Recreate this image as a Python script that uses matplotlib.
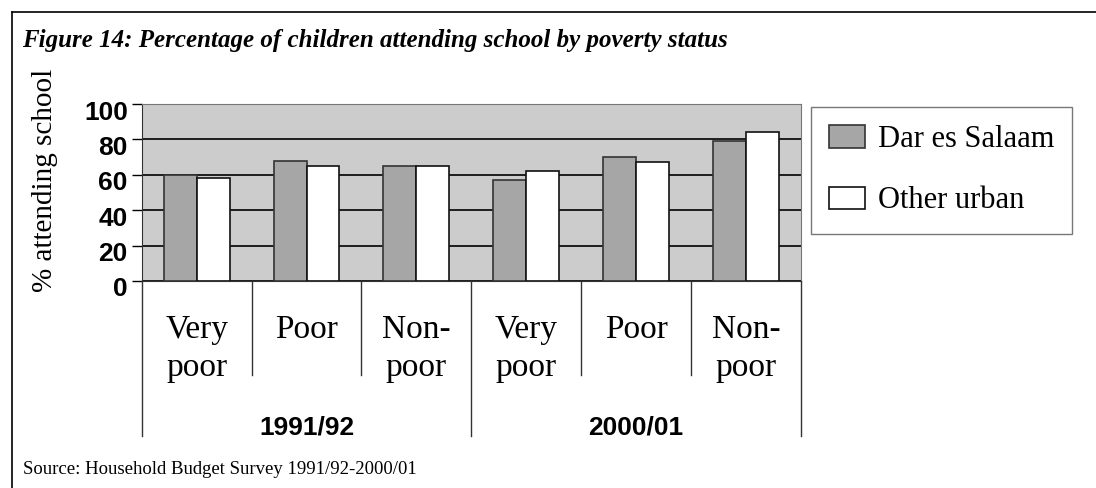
import matplotlib.pyplot as plt
import numpy as np
from matplotlib.lines import Line2D
from matplotlib.transforms import ScaledTranslation

# poverty status categories within each survey round
categories = ["Very\npoor", "Poor", "Non-\npoor", "Very\npoor", "Poor", "Non-\npoor"]
years = ["1991/92", "2000/01"]
dar_es_salaam = [60, 68, 65, 57, 70, 79]
other_urban = [58, 65, 65, 62, 67, 84]
yticks = [0, 20, 40, 60, 80, 100]

serif = "Liberation Serif"
sans = "Liberation Sans"

fig = plt.figure(figsize=(10.96, 4.88), dpi=100)
W, H = 1096, 488
ax = fig.add_axes([141.7 / W, 1 - 281 / H, (801 - 141.7) / W, 177 / H])

x = np.arange(len(categories))
w = 0.3
ax.set_facecolor("#cccccc")
ax.set_axisbelow(True)
ax.yaxis.grid(True, color="black", linewidth=1.2)
ax.bar(x - w / 2, dar_es_salaam, w, color="#a6a6a6", edgecolor="#333333",
       linewidth=1.2, label="Dar es Salaam")
ax.bar(x + w / 2, other_urban, w, color="white", edgecolor="#111111",
       linewidth=1.2, label="Other urban")

ax.set_xlim(-0.5, len(categories) - 0.5)
ax.set_ylim(0, 100)
ax.set_yticks(yticks)
ax.set_yticklabels([str(t) for t in yticks], fontsize=19, fontweight="bold",
                   family=sans)
ax.tick_params(axis="y", length=7, width=1, pad=3)
shift = ScaledTranslation(0, -6 / 100, fig.dpi_scale_trans)
for lab in ax.get_yticklabels():
    lab.set_transform(lab.get_transform() + shift)
ax.set_xticks([])
for s in ["top", "right"]:
    ax.spines[s].set_color("#777777")
ax.spines["left"].set_color("#333333")
ax.spines["bottom"].set_color("#333333")

fig.text(45 / W, 1 - 180 / H, "% attending school", rotation=90,
         fontsize=21, family=serif, ha="center", va="center")

# category dividers below the axis and labels
trans = ax.get_xaxis_transform()
for i in range(len(categories) + 1):
    edge = i - 0.5
    depth = -0.876 if i % 3 == 0 else -0.53
    ax.plot([edge, edge], [0, depth], color="#333333", lw=1,
            transform=trans, clip_on=False)
for i, lab in enumerate(categories):
    ax.text(i, -0.19, lab, transform=trans, ha="center", va="top",
            fontsize=24, family=serif, linespacing=1.3)
for g, yr in enumerate(years):
    ax.text(g * 3 + 1, -0.83, yr, transform=trans, ha="center", va="center",
            fontsize=19, fontweight="bold", family=sans)

leg = fig.legend(loc="upper left", bbox_to_anchor=(811 / W, 1 - 107 / H),
                 prop={"family": serif, "size": 22}, frameon=True,
                 fancybox=False, edgecolor="#555555", handlelength=1.18,
                 handleheight=0.75, handletextpad=0.4, labelspacing=1.05,
                 borderpad=0.6, borderaxespad=0)
leg.get_frame().set_linewidth(1)

fig.text(22 / W, 1 - 47 / H,
         "Figure 14: Percentage of children attending school by poverty status",
         fontsize=18, style="italic", fontweight="bold", family=serif,
         va="baseline")
fig.text(23 / W, 1 - 470 / H, "Source: Household Budget Survey 1991/92-2000/01",
         fontsize=13.5, family=serif, va="center")

# frame around the figure
fig.add_artist(Line2D([12 / W, 1], [1 - 12 / H, 1 - 12 / H], color="black", lw=1.2))
fig.add_artist(Line2D([12 / W, 12 / W], [0, 1 - 12 / H], color="black", lw=1.2))

fig.savefig("out.png", dpi=100)
